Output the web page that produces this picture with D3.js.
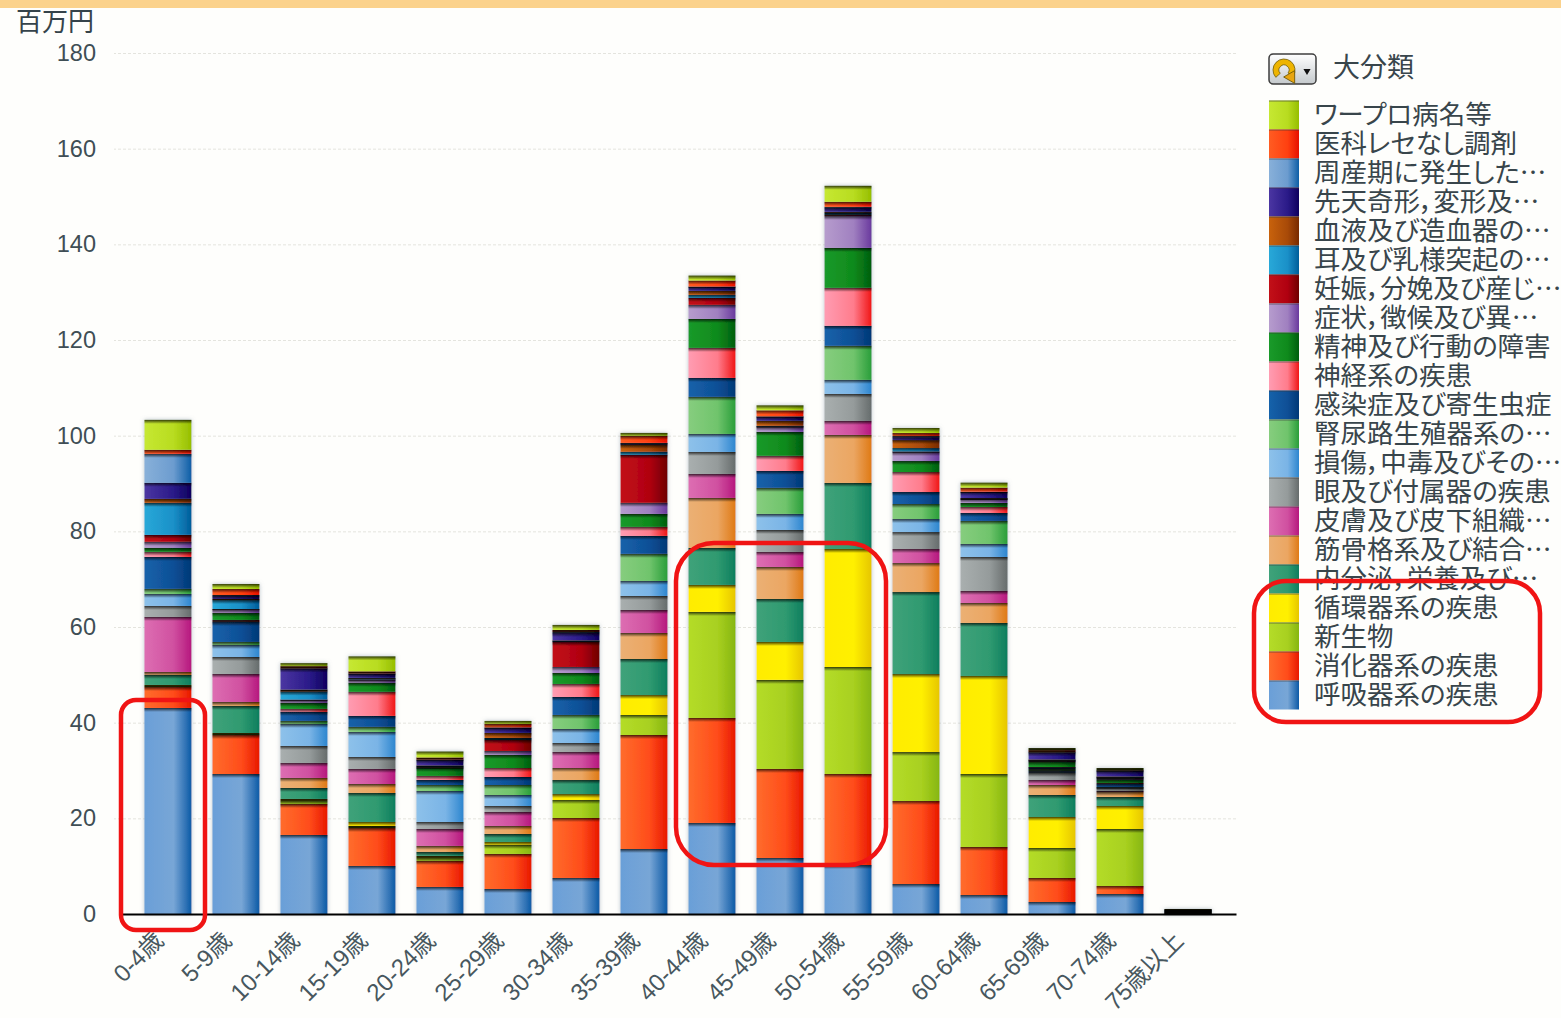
<!DOCTYPE html>
<html lang="ja">
<head>
<meta charset="utf-8">
<script src="https://cdn.jsdelivr.net/npm/d3@7/dist/d3.min.js"></script>
<style>
  html, body { margin: 0; padding: 0; background: #fefefc; overflow: hidden; }
  text { font-family: "Liberation Sans", "Noto Sans CJK JP", sans-serif; }
  .jp { font-family: "Noto Sans CJK JP", sans-serif; font-feature-settings: "palt"; }
</style>
</head>
<body>
<svg id="chart" width="1561" height="1018"></svg>
<script>
// 年齢階級別・疾病大分類別の医療費（単位：百万円）
const ageGroups = ["0-4歳","5-9歳","10-14歳","15-19歳","20-24歳","25-29歳","30-34歳","35-39歳",
                   "40-44歳","45-49歳","50-54歳","55-59歳","60-64歳","65-69歳","70-74歳","75歳以上"];
const yTicks = [0, 20, 40, 60, 80, 100, 120, 140, 160, 180];

const respiratory = [43.07,29.27,16.52,10.04,5.65,5.23,7.53,13.59,19.03,11.71,10.24,6.27,3.97,2.51,4.18,0.05];
const digestive   = [4.39,8.15,6.48,7.94,5.44,7.32,12.54,23.83,21.95,18.61,19.03,17.35,10.04,5.02,1.67,0.05];
const neoplasm    = [0.21,0.21,0.63,0.42,0.63,1.88,3.76,4.18,22.16,18.61,22.37,10.24,15.26,6.27,11.92,0.05];
const circulatory = [0.21,0.21,0.42,0.84,0.42,0.63,1.25,4.18,5.65,7.94,24.67,16.31,20.49,6.48,4.81,0.05];
const endocrine   = [2.09,5.65,2.3,6.06,0.84,1.67,2.93,7.53,7.74,8.99,13.8,17.14,11.08,4.6,1.88,0.05];
const musculo     = [0.63,0.84,2.09,1.88,1.25,1.67,2.51,5.44,10.45,6.69,10.04,6.06,4.18,2.09,1.05,0.05];
const skin        = [11.5,5.85,3.14,3.14,3.55,2.93,3.35,4.81,5.02,3.14,2.93,2.93,2.51,1.05,0.21,0.05];
const eye         = [2.3,3.55,3.55,2.51,1.46,1.25,1.88,2.93,4.6,4.6,5.65,3.55,7.11,1.46,0.63,0.05];
const injury      = [2.51,2.51,4.6,5.23,6.48,2.3,2.93,3.14,3.76,3.35,2.93,2.72,2.72,0.42,0.1,0.05];
const urogenital  = [1.05,0.63,0.63,1.05,1.25,2.09,2.93,5.65,7.74,5.44,7.11,3.14,4.81,0.42,0.1,0.05];
const infectious  = [6.69,4.18,1.88,2.3,1.05,1.67,3.76,3.76,3.97,3.55,4.18,2.51,1.67,0.31,0.63,0.05];
const nervous     = [1.05,0.42,0.63,5.02,0.84,1.88,2.72,1.88,6.27,3.14,7.94,4.18,1.25,0.1,0.21,0.05];
const mental      = [0.84,1.46,1.25,1.88,1.67,2.72,2.3,2.72,6.06,5.02,8.36,2.3,0.84,1.05,0.63,0.05];
const symptoms    = [1.25,0.73,0.63,0.63,0.1,0.84,1.25,2.3,2.93,1.05,6.69,1.88,0.84,0.21,0.42,0.05];
const pregnancy   = [1.46,0.1,0.06,0.1,0.1,2.3,5.23,10.04,1.46,0.1,0.21,0.1,0.04,0.1,0.1,0.05];
const ear         = [6.69,1.88,1.67,0.21,0.21,0.42,0.21,0.63,0.63,0.1,0.42,0.73,0.06,0.1,0.1,0.05];
const blood       = [0.84,0.21,0.42,0.1,0.1,1.05,0.1,1.46,0.84,1.05,0.21,1.67,0.1,0.1,0.1,0.05];
const congenital  = [3.35,0.63,4.39,0.84,1.15,1.05,1.57,0.31,0.84,0.84,0.84,0.63,1.25,1.46,1.15,0.05];
const perinatal   = [6.06,0.21,0.1,0.1,0.1,0.1,0.21,0.1,0.06,0.1,0.21,0.21,0.06,0.1,0.1,0.05];
const dispensing  = [0.84,1.25,0.42,0.42,0.42,0.73,0.42,1.46,1.25,1.25,1.05,0.63,0.84,0.42,0.1,0.05];
const wordProc    = [6.27,1.05,0.63,3.14,1.25,0.63,1.05,0.63,1.05,1.05,3.35,1.05,1.05,0.42,0.42,0.05];

// 積み上げは下から上の順
const seriesValues = [respiratory, digestive, neoplasm, circulatory, endocrine, musculo, skin, eye,
                      injury, urogenital, infectious, nervous, mental, symptoms, pregnancy, ear,
                      blood, congenital, perinatal, dispensing, wordProc];
const seriesNames = ["呼吸器系の疾患","消化器系の疾患","新生物","循環器系の疾患","内分泌，栄養及び","筋骨格系及び結合","皮膚及び皮下組織","眼及び付属器の疾患",
                     "損傷，中毒及びその","腎尿路生殖器系の","感染症及び寄生虫症","神経系の疾患","精神及び行動の障害","症状，徴候及び異","妊娠，分娩及び産じ","耳及び乳様突起の",
                     "血液及び造血器の","先天奇形，変形及","周産期に発生した","医科レセなし調剤","ワープロ病名等"];
const truncated = new Set(["内分泌，栄養及び","筋骨格系及び結合","皮膚及び皮下組織","損傷，中毒及びその","腎尿路生殖器系の","症状，徴候及び異","妊娠，分娩及び産じ","耳及び乳様突起の","血液及び造血器の","先天奇形，変形及","周産期に発生した"]);
// 各系列の左・中・右の色
const seriesShades = [
  ["#6a9fd8","#78a6d6","#0d5aa6"],["#ff6c2c","#ff4c1a","#e81800"],["#b4dc28","#a8d020","#86b610"],
  ["#ffec00","#fff000","#e6c600"],["#3fa27a","#2f9a70","#0d7e5e"],["#ebb074","#eba662","#df7a16"],
  ["#dd6eb2","#d050a0","#b6187e"],["#a9afaf","#959b9b","#666c6c"],["#8dc1ea","#7ab4e6","#2d86cf"],
  ["#86cd7e","#70c46c","#2a9e3a"],["#1562aa","#0f4f96","#003876"],["#ff9cb2","#ff7c8c","#f01616"],
  ["#1a9a2a","#0f8a1c","#005e0e"],["#b69ccd","#a080c0","#6a3a9e"],["#c21018","#b00010","#6e0000"],
  ["#28a8d8","#1a90c8","#005d9a"],["#c8620c","#a84a08","#782a00"],["#4b36a2","#2a1a88","#0e005e"],
  ["#88b0d9","#6c9ccf","#0e5ea6"],["#ff5c22","#ff4010","#e61000"],["#c6e832","#b8dc20","#96be00"]
];

const svg = d3.select("#chart");
const W = 1561, H = 1018;
const baseline = 914, top180 = 53, axisLeft = 120, axisRight = 1236;

const table = ageGroups.map((age, i) => {
  const row = { age };
  seriesNames.forEach((name, s) => { row[name] = seriesValues[s][i]; });
  return row;
});
const stacked = d3.stack().keys(seriesNames)(table);

const x = d3.scaleBand().domain(ageGroups).range([axisLeft, axisRight]).paddingInner(0.31).paddingOuter(0.36);
const y = d3.scaleLinear().domain([0, 180]).range([baseline, top180]);

// グラデーション定義
const defs = svg.append("defs");
seriesShades.forEach((shade, i) => {
  const g = defs.append("linearGradient").attr("id", "shade" + i);
  [0, 0.62, 1].forEach((o, k) => g.append("stop").attr("offset", o).attr("stop-color", shade[k]));
});
const edge = defs.append("linearGradient").attr("id", "edge").attr("x1", 0).attr("x2", 0).attr("y1", 0).attr("y2", 1);
edge.append("stop").attr("offset", 0).attr("stop-color", "#000").attr("stop-opacity", 0.72);
edge.append("stop").attr("offset", 1).attr("stop-color", "#000").attr("stop-opacity", 0);
const soft = defs.append("filter").attr("id", "barShadow").attr("x", "-15%").attr("width", "130%");
soft.append("feDropShadow").attr("dx", 0).attr("dy", 0).attr("stdDeviation", 2)
    .attr("flood-color", "#7e8fa0").attr("flood-opacity", 0.55);
const btn = defs.append("linearGradient").attr("id", "btn").attr("x1", 0).attr("x2", 0).attr("y1", 0).attr("y2", 1);
btn.append("stop").attr("offset", 0).attr("stop-color", "#ffffff");
btn.append("stop").attr("offset", 1).attr("stop-color", "#c4c9cc");

// 上端の帯
svg.append("rect").attr("width", W).attr("height", 8).attr("fill", "#fbd28c");

// 目盛線と縦軸
const yAxis = svg.append("g").attr("transform", `translate(${axisRight},0)`)
  .call(d3.axisLeft(y).tickValues(yTicks).tickSize(axisRight - axisLeft + 6).tickPadding(18));
yAxis.select(".domain").remove();
yAxis.selectAll(".tick line").attr("stroke", "#e4e4de").attr("stroke-width", 1).attr("stroke-dasharray", "3 2");
yAxis.selectAll(".tick text").attr("font-size", 23.5).attr("fill", "#3f4e55")
  .style("font-family", '"Liberation Sans", sans-serif');
yAxis.selectAll(".tick").filter(d => d === 0).select("line").remove();

// 積み上げ棒：各区分の上端は暗く落とす
const segHeight = d => y(d[0]) - y(d[1]);
const bars = svg.append("g").attr("filter", "url(#barShadow)");
const layers = bars.selectAll("g.layer").data(stacked).join("g").attr("class", "layer");
layers.each(function (layer, s) {
  const g = d3.select(this);
  g.selectAll("rect.fill").data(layer).join("rect").attr("class", "fill")
    .attr("x", d => x(d.data.age)).attr("width", x.bandwidth())
    .attr("y", d => y(d[1])).attr("height", segHeight)
    .attr("fill", `url(#shade${s})`);
  g.selectAll("rect.edge").data(layer).join("rect").attr("class", "edge")
    .attr("x", d => x(d.data.age)).attr("width", x.bandwidth())
    .attr("y", d => y(d[1]))
    .attr("height", d => segHeight(d) < 2.6 ? Math.max(segHeight(d), 1) : 4)
    .attr("fill", d => segHeight(d) < 2.6 ? "#000" : "url(#edge)")
    .attr("fill-opacity", d => segHeight(d) < 2.6 ? 0.85 : 1);
});

// 横軸
const xAxis = svg.append("g").attr("transform", `translate(0,${baseline})`)
  .call(d3.axisBottom(x).tickSize(0).tickSizeOuter(0));
xAxis.select(".domain").attr("stroke", "#000").attr("stroke-width", 2);
xAxis.selectAll(".tick text")
  .attr("font-size", 24).attr("fill", "#47575e")
  .attr("text-anchor", "end")
  .attr("dy", null).attr("y", 0)
  .attr("transform", "translate(-3,28) rotate(-45)");

// 単位
svg.append("text").attr("class", "jp").attr("x", 16).attr("y", 31)
  .attr("font-size", 26).attr("fill", "#35434a").text("百万円");

// 凡例
const legendOrder = seriesNames.map((name, i) => ({ name, i })).reverse();
const legendRow = d3.scaleBand().domain(legendOrder.map(d => d.name)).range([100.5, 709.5]);
const legend = svg.append("g");
legend.selectAll("rect.swatch").data(legendOrder).join("rect").attr("class", "swatch")
  .attr("x", 1269).attr("width", 30)
  .attr("y", d => legendRow(d.name)).attr("height", legendRow.bandwidth())
  .attr("fill", d => `url(#shade${d.i})`);
legend.selectAll("rect.sep").data(legendOrder).join("rect").attr("class", "sep")
  .attr("x", 1269).attr("width", 30)
  .attr("y", d => legendRow(d.name)).attr("height", 1)
  .attr("fill", "#3a3a3a").attr("fill-opacity", 0.6);
legend.selectAll("text.item").data(legendOrder).join("text").attr("class", "item jp")
  .attr("x", 1314)
  .attr("y", d => legendRow(d.name) + legendRow.bandwidth() / 2 + 9)
  .attr("font-size", 26.5).attr("fill", "#38454b")
  .text(d => d.name + (truncated.has(d.name) ? "…" : ""));

// 凡例見出しとボタン
const head = svg.append("g");
head.append("rect").attr("x", 1269).attr("y", 54).attr("width", 47).attr("height", 30).attr("rx", 4)
  .attr("fill", "url(#btn)").attr("stroke", "#3e3e3e").attr("stroke-width", 1.5);
head.append("path").attr("d", d3.arc()({ innerRadius: 5, outerRadius: 11, startAngle: -2.3, endAngle: 2.2 }))
  .attr("transform", "translate(1284,70)").attr("fill", "#eeb400").attr("stroke", "#6f5a06").attr("stroke-width", 0.8);
head.append("path").attr("d", d3.symbol(d3.symbolTriangle, 70)())
  .attr("transform", "translate(1291,77) rotate(150)").attr("fill", "#e8a510").attr("stroke", "#6f5a06").attr("stroke-width", 0.8);
head.append("path").attr("d", d3.symbol(d3.symbolTriangle, 22)())
  .attr("transform", "translate(1307,71) rotate(180)").attr("fill", "#111");
head.append("text").attr("class", "jp").attr("x", 1333).attr("y", 77)
  .attr("font-size", 27).attr("fill", "#38454b").text("大分類");

// 強調枠
const callouts = svg.append("g").attr("fill", "none").attr("stroke", "#f01414").attr("stroke-width", 4.5);
callouts.append("rect").attr("x", 121).attr("y", 700).attr("width", 84).attr("height", 230).attr("rx", 15);
callouts.append("rect").attr("x", 676).attr("y", 543).attr("width", 210).attr("height", 322).attr("rx", 38);
callouts.append("rect").attr("x", 1254).attr("y", 581).attr("width", 286).attr("height", 141).attr("rx", 32);
</script>
</body>
</html>
